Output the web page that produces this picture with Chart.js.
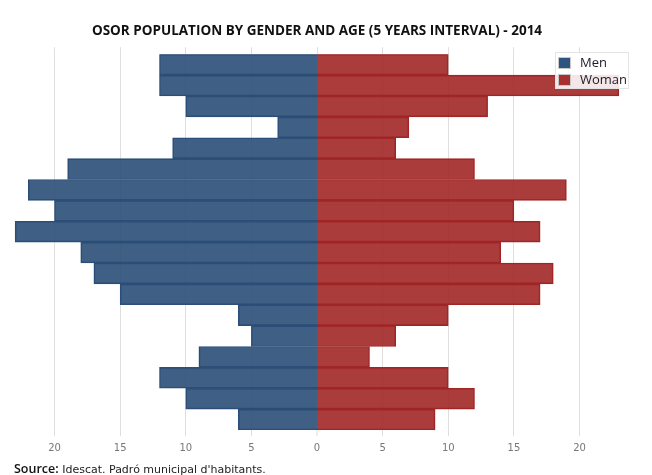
<!DOCTYPE html>
<html>
<head>
<meta charset="utf-8">
<script src="https://cdn.jsdelivr.net/npm/chart.js@4.4.1/dist/chart.umd.min.js"></script>
<style>
  body { margin: 0; background: #fff; }
  #wrap { position: relative; width: 652px; height: 475px; }
  #source { position: absolute; left: 14px; top: 460px; font: 11px "DejaVu Sans", sans-serif; color: #222; white-space: nowrap; }
  #source b { font: 600 12.5px "Open Sans", sans-serif; color: #111; }
</style>
</head>
<body>
<div id="wrap">
  <canvas id="myChart" width="652" height="475"></canvas>
  <div id="source"><b>Source:</b> Idescat. Padró municipal d'habitants.</div>
</div>
<script>
// age groups, oldest at the top
var ageGroups = ['85+', '80-84', '75-79', '70-74', '65-69', '60-64', '55-59', '50-54', '45-49',
                 '40-44', '35-39', '30-34', '25-29', '20-24', '15-19', '10-14', '5-9', '0-4'];
var men   = [12, 12, 10, 3, 11, 19, 22, 20, 23, 18, 17, 15, 6, 5, 9, 12, 10, 6];
var women = [10, 23, 13, 7, 6, 12, 19, 15, 17, 14, 18, 17, 10, 6, 4, 10, 12, 9];
var tickValues = [-20, -15, -10, -5, 0, 5, 10, 15, 20];

// legend drawn over the plot, top right
var boxLegend = {
    id: 'boxLegend',
    afterDraw: function (chart) {
        var c = chart.ctx;
        var x = 555, y = 52;
        c.save();
        c.fillStyle = 'rgba(255,255,255,0.88)';
        c.fillRect(x, y, 74, 37);
        c.strokeStyle = 'rgba(225,225,225,0.9)';
        c.lineWidth = 1;
        c.strokeRect(x + 0.5, y + 0.5, 73, 36);
        c.font = '13px "Open Sans", sans-serif';
        c.textBaseline = 'middle';
        chart.data.datasets.forEach(function (ds, i) {
            var yy = 58 + i * 17;
            c.fillStyle = ds.legendColor;
            c.fillRect(559, yy, 11, 10);
            c.strokeStyle = '#c8c8c8';
            c.strokeRect(558.5, yy - 0.5, 12, 11);
            c.fillStyle = '#1a1a2a';
            c.fillText(ds.label, 580, yy + 5);
        });
        c.restore();
    }
};

// no grid line at zero, so the bars meet without a gap
var isZero = function (context) { return context.tick && context.tick.value === 0; };
var gridColor = function (context) { return isZero(context) ? 'rgba(0,0,0,0)' : '#dedede'; };
var gridWidth = function (context) { return isZero(context) ? 0 : 1; };

var ctx = document.getElementById('myChart').getContext('2d');
var chart = new Chart(ctx, { //eslint-disable-line
    type: 'bar',
    data: {
        labels: ageGroups,
        datasets: [{
            label: 'Men',
            data: men.map(function (v) { return -v; }),
            backgroundColor: 'rgba(42,79,119,0.9)',
            borderColor: 'rgb(44,78,120)',
            legendColor: 'rgb(46,84,128)',
            borderWidth: 1,
            grouped: false,
            categoryPercentage: 1,
            barPercentage: 1
        }, {
            label: 'Woman',
            data: women,
            backgroundColor: 'rgba(162,39,39,0.9)',
            borderColor: 'rgb(160,38,38)',
            legendColor: 'rgb(168,48,48)',
            borderWidth: 1,
            grouped: false,
            categoryPercentage: 1,
            barPercentage: 1
        }]
    },
    options: {
        indexAxis: 'y',
        responsive: false,
        animation: false,
        layout: { padding: { left: 2, right: 20, bottom: 15 } },
        plugins: {
            legend: { display: false },
            tooltip: { enabled: false },
            title: {
                display: true,
                text: 'OSOR POPULATION BY GENDER AND AGE (5 YEARS INTERVAL) - 2014',
                color: '#111',
                font: { family: '"Open Sans", sans-serif', size: 13.5, weight: 'bold' },
                padding: { top: 23, bottom: 8 }
            }
        },
        scales: {
            x: {
                min: -24,
                max: 24,
                afterBuildTicks: function (axis) {
                    axis.ticks = tickValues.map(function (v) { return { value: v }; });
                },
                grid: { color: gridColor, lineWidth: gridWidth, tickLength: 6, tickWidth: 1, tickColor: '#dedede' },
                border: { display: false },
                ticks: {
                    color: '#777',
                    padding: 6,
                    font: { family: '"DejaVu Sans", sans-serif', size: 10 },
                    callback: function (v) { return Math.abs(v); }
                }
            },
            xTop: {
                position: 'top',
                min: -24,
                max: 24,
                afterBuildTicks: function (axis) {
                    axis.ticks = tickValues.map(function (v) { return { value: v }; });
                },
                grid: { color: '#dedede', tickLength: 7, drawOnChartArea: false },
                border: { display: false },
                ticks: { display: false }
            },
            y: {
                display: false
            }
        }
    },
    plugins: [boxLegend]
});
</script>
</body>
</html>
